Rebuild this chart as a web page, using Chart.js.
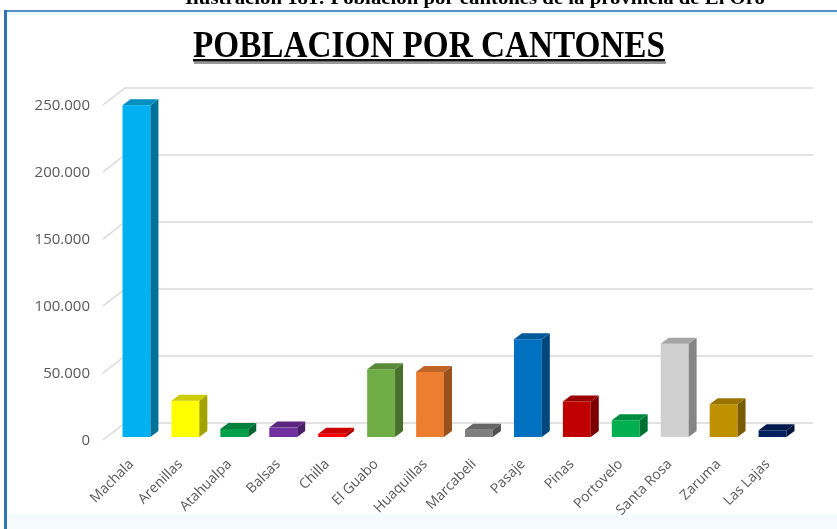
<!DOCTYPE html>
<html>
<head>
<meta charset="utf-8">
<script src="https://cdn.jsdelivr.net/npm/chart.js@4/dist/chart.umd.min.js"></script>
<style>
  html, body { margin: 0; padding: 0; background: #ffffff; }
  #wrap { position: relative; width: 837px; height: 529px; overflow: hidden; }
  canvas { display: block; }
</style>
</head>
<body>
<div id="wrap"><canvas id="grafico" width="837" height="529"></canvas></div>
<script>
// Población por cantón (provincia de El Oro)
const cantones = ['Machala', 'Arenillas', 'Atahualpa', 'Balsas', 'Chilla', 'El Guabo', 'Huaquillas',
  'Marcabeli', 'Pasaje', 'Pinas', 'Portovelo', 'Santa Rosa', 'Zaruma', 'Las Lajas'];
const poblacion = [247500, 27000, 6000, 7000, 2500, 50500, 48500, 5500, 73000, 26500, 12500, 69500, 24500, 5000];
const marcasY = [0, 50000, 100000, 150000, 200000, 250000];
const coloresBarra = ['#00B0F0', '#FFFF00', '#00A04A', '#7030A0', '#FF0000', '#70AD47', '#ED7D31',
  '#7F7F7F', '#0070C0', '#C00000', '#00B050', '#D0D0D0', '#BF9000', '#002060'];

const titulo = 'POBLACION POR CANTONES';
const encabezado = 'Ilustración 181: Población por cantones de la provincia de El Oro';

function formatoMiles(v) {
  return String(v).replace(/\B(?=(\d{3})+(?!\d))/g, '.');
}
function sombra(hex, f) {
  const n = parseInt(hex.slice(1), 16);
  const r = Math.round(((n >> 16) & 255) * f);
  const g = Math.round(((n >> 8) & 255) * f);
  const b = Math.round((n & 255) * f);
  return 'rgb(' + r + ',' + g + ',' + b + ')';
}

// Marco, encabezado y título
const marco = {
  id: 'marco',
  beforeDraw(chart) {
    const ctx = chart.ctx;
    const W = chart.width, H = chart.height;
    ctx.save();
    ctx.fillStyle = '#ffffff';
    ctx.fillRect(0, 0, W, H);
    // franja inferior del marco
    ctx.fillStyle = '#f3fbfc';
    ctx.fillRect(7, 514, W - 7, H - 514);
    // brillo bajo el borde superior
    ctx.fillStyle = '#eaf7fb';
    ctx.fillRect(7, 12, W - 7, 3);
    // borde superior
    ctx.fillStyle = '#5a8fc4';
    ctx.fillRect(4, 10, W - 4, 2);
    // borde izquierdo
    ctx.fillStyle = '#2f74b5';
    ctx.fillRect(4, 10, 3, H - 10);

    // encabezado (cortado por el borde superior de la página)
    ctx.fillStyle = '#000000';
    ctx.font = 'bold 19px "Liberation Serif", "Times New Roman", serif';
    ctx.textBaseline = 'alphabetic';
    ctx.textAlign = 'left';
    let w = ctx.measureText(encabezado).width;
    let sx = 580 / w;
    ctx.save();
    ctx.translate(185, 4);
    ctx.scale(sx, 1);
    ctx.fillText(encabezado, 0, 0);
    ctx.restore();

    // título subrayado
    ctx.font = 'bold 38px "Liberation Serif", "Times New Roman", serif';
    w = ctx.measureText(titulo).width;
    sx = 472 / w;
    ctx.save();
    ctx.translate(193, 57);
    ctx.scale(sx, 1);
    ctx.fillText(titulo, 0, 0);
    ctx.restore();
    ctx.fillStyle = '#9a9a9a';
    ctx.fillRect(194, 61.5, 472, 2.5);
    ctx.fillStyle = '#111111';
    ctx.fillRect(193, 59, 472, 2.5);
    ctx.restore();
  }
};

// Pared del fondo con líneas de división, sus diagonales y rótulos del eje
const pared = {
  id: 'pared',
  beforeDatasetsDraw(chart) {
    const ctx = chart.ctx;
    const y = chart.scales.y;
    const area = chart.chartArea;
    ctx.save();
    ctx.strokeStyle = '#d9d9d9';
    ctx.lineWidth = 1.5;
    marcasY.forEach(v => {
      const py = y.getPixelForValue(v);
      ctx.beginPath();
      ctx.moveTo(area.left - 9, py + 3);
      ctx.lineTo(area.left + 13, py - 14);
      ctx.lineTo(813, py - 14);
      ctx.stroke();
    });
    ctx.fillStyle = '#595959';
    ctx.font = '15px "Open Sans", sans-serif';
    ctx.textAlign = 'right';
    ctx.textBaseline = 'middle';
    marcasY.forEach(v => {
      ctx.fillText(formatoMiles(v), area.left - 22, y.getPixelForValue(v) + 4);
    });
    ctx.restore();
  }
};

// Caras superior y lateral de cada columna
const columnas3d = {
  id: 'columnas3d',
  afterDatasetsDraw(chart) {
    const ctx = chart.ctx;
    const meta = chart.getDatasetMeta(0);
    const dx = 8, dy = 6;
    ctx.save();
    meta.data.forEach((bar, i) => {
      const p = bar.getProps(['x', 'y', 'base', 'width'], true);
      const left = p.x - p.width / 2, right = p.x + p.width / 2;
      const col = coloresBarra[i];
      // lateral
      ctx.fillStyle = sombra(col, 0.64);
      ctx.beginPath();
      ctx.moveTo(right, p.y);
      ctx.lineTo(right + dx, p.y - dy);
      ctx.lineTo(right + dx, p.base - dy);
      ctx.lineTo(right, p.base);
      ctx.closePath();
      ctx.fill();
      // superior
      ctx.fillStyle = sombra(col, 0.8);
      ctx.beginPath();
      ctx.moveTo(left, p.y);
      ctx.lineTo(left + dx, p.y - dy);
      ctx.lineTo(right + dx, p.y - dy);
      ctx.lineTo(right, p.y);
      ctx.closePath();
      ctx.fill();
    });
    ctx.restore();
  }
};

new Chart(document.getElementById('grafico'), {
  type: 'bar',
  data: {
    labels: cantones,
    datasets: [{
      data: poblacion,
      backgroundColor: coloresBarra,
      borderWidth: 0,
      barPercentage: 0.57,
      categoryPercentage: 1.0
    }]
  },
  options: {
    responsive: false,
    animation: false,
    layout: { padding: { left: 0, right: 40, top: 102, bottom: 0 } },
    plugins: {
      legend: { display: false },
      title: { display: false },
      tooltip: { enabled: false }
    },
    scales: {
      x: {
        grid: { display: false },
        border: { display: false },
        ticks: {
          autoSkip: false,
          maxRotation: 45,
          minRotation: 45,
          padding: 11,
          labelOffset: -5,
          color: '#595959',
          font: { family: '"Open Sans", sans-serif', size: 14 }
        },
        afterFit(scale) { scale.height = 92; }
      },
      y: {
        min: 0,
        max: 250000,
        grid: { display: false },
        border: { display: false },
        afterBuildTicks(scale) { scale.ticks = marcasY.map(v => ({ value: v })); },
        ticks: { display: false },
        afterFit(scale) { scale.width = 112; }
      }
    }
  },
  plugins: [marco, pared, columnas3d]
});
</script>
</body>
</html>
